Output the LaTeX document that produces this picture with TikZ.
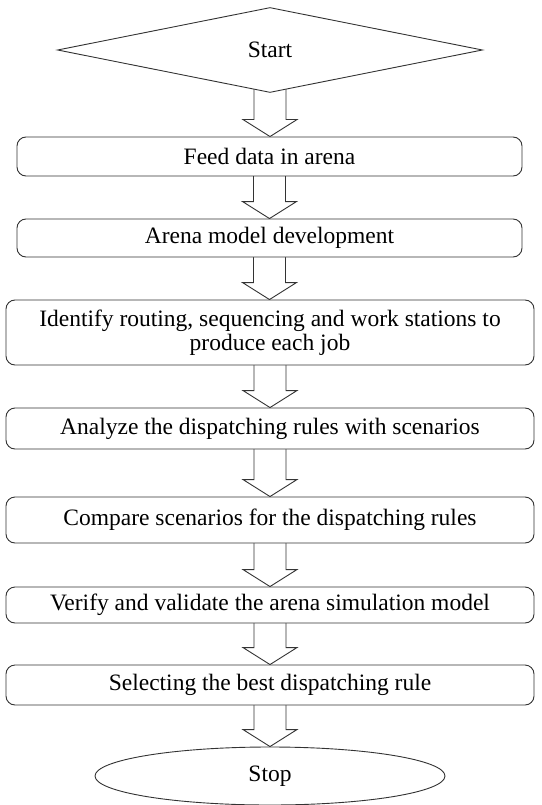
\documentclass[tikz,border=0pt]{standalone}
\usepackage{fontspec}
\setmainfont{Liberation Serif}
\usetikzlibrary{shapes.geometric,calc,backgrounds}
\tikzset{
  stepbox/.style = {draw=black!80, fill=white, line width=0.9pt,
                    rounded corners=9pt, inner sep=0pt, align=center},
  startnode/.style = {diamond, draw=black!80, fill=white, line width=0.9pt,
                    inner sep=0pt, minimum width=425pt, minimum height=85pt},
  stopnode/.style = {ellipse, draw=black!80, fill=white, line width=0.9pt,
                    inner sep=0pt, minimum width=350pt, minimum height=58pt},
  fatarrow/.style = {draw=black!80, line width=0.9pt, to path={
      let \p1=(\tikztostart), \p2=(\tikztotarget) in
      (\x1-16pt,\y1+4pt) -- (\x1-16pt,\y2+17pt) -- (\x1-27pt,\y2+17pt)
      -- (\x1,\y2) -- (\x1+27pt,\y2+17pt) -- (\x1+16pt,\y2+17pt)
      -- (\x1+16pt,\y1+4pt)}}
}

\begin{document}
\begin{tikzpicture}[x=1pt, y=-1pt, font=\fontsize{23.5}{24}\selectfont]
	\def \wa{505pt}
	\def \wb{528pt}
	\useasboundingbox (0,0) rectangle (541,805);
	
	% Start / Stop
	\node[startnode] (start) at (270,50) {Start};
	\node[stopnode]  (stop)  at (270,776) {Stop};
	
	% Steps
	\node[stepbox, minimum width=\wa, minimum height=39pt] (feed)     at (269.5,156.5) {Feed data in arena};
	\node[stepbox, minimum width=\wa, minimum height=38pt] (model)    at (269.5,238) {Arena model development};
	\node[stepbox, minimum width=\wb, minimum height=65pt] (identify) at (270,332.5) {Identify routing, sequencing and work stations to\\produce each job};
	\node[stepbox, minimum width=\wb, minimum height=41pt] (analyze)  at (270,428.5) {Analyze the dispatching rules with scenarios};
	\node[stepbox, minimum width=\wb, minimum height=46pt] (compare)  at (270,520) {Compare scenarios for the dispatching rules};
	\node[stepbox, minimum width=\wb, minimum height=36pt] (verify)   at (270,605) {Verify and validate the arena simulation model};
	\node[stepbox, minimum width=\wb, minimum height=40pt] (select)   at (270,685) {Selecting the best dispatching rule};
	
	% Arrows
	\begin{scope}[on background layer]
	\foreach \a/\b in {start/feed, feed/model, model/identify, identify/analyze,
	                   analyze/compare, compare/verify, verify/select, select/stop}
		\draw[fatarrow] (\a.south) to (\b.north);
	\end{scope}
	
\end{tikzpicture}
\end{document}
